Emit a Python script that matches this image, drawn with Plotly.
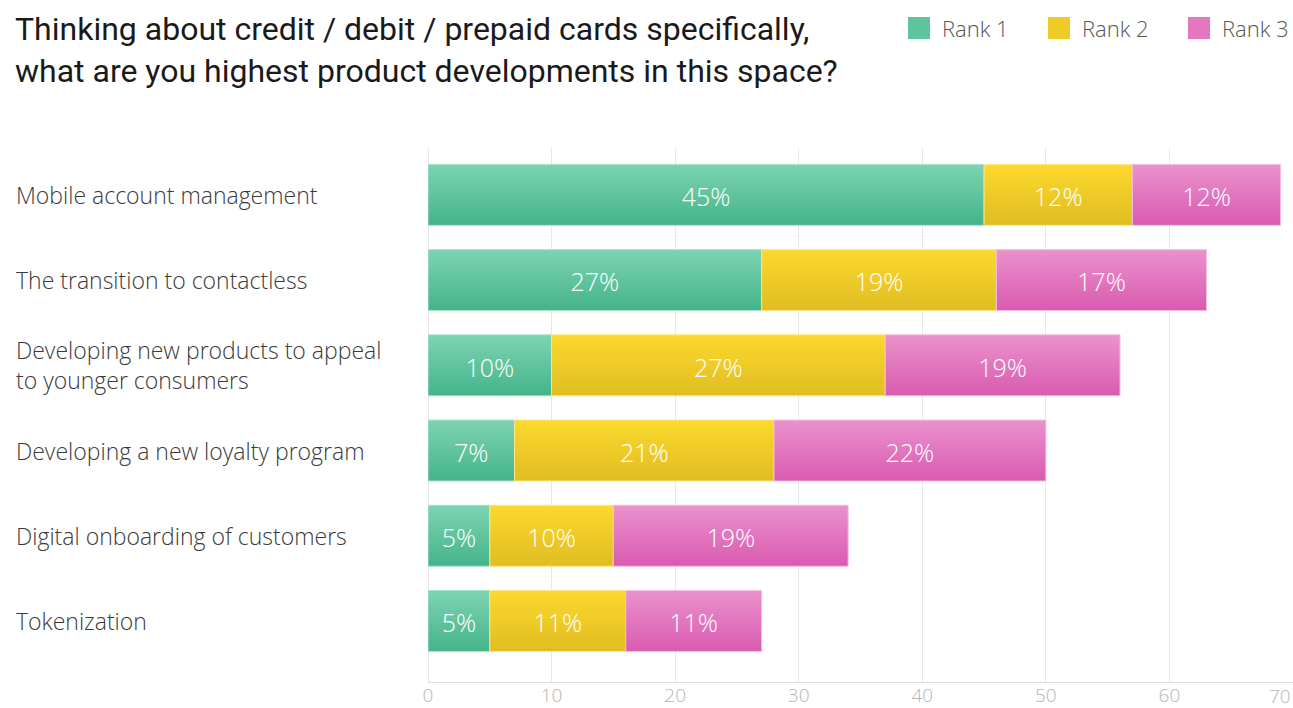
import plotly.graph_objects as go

# Survey data: share of respondents ranking each development 1st / 2nd / 3rd
categories = [
    "Mobile account management",
    "The transition to contactless",
    "Developing new products to appeal<br>to younger consumers",
    "Developing a new loyalty program",
    "Digital onboarding of customers",
    "Tokenization",
]
rank1 = [45, 27, 10, 7, 5, 5]
rank2 = [12, 19, 27, 21, 10, 11]
rank3 = [12, 17, 19, 22, 19, 11]
series_names = ["Rank 1", "Rank 2", "Rank 3"]
x_ticks = [0, 10, 20, 30, 40, 50, 60, 70]

# (top, bottom, mid) shades for each rank's vertical gradient
top_colors = ["#7dd4b2", "#fcd92c", "#eb92cd"]
bottom_colors = ["#44b48a", "#e0bd22", "#d95ab0"]
mid_colors = ["#5fc49e", "#eecb27", "#e276bf"]
edge_colors = ["#a6e3cc", "#fde78a", "#f3bde1"]

W, H = 1293, 708
M_T, M_B = 148, 26
PLOT_LEFT = 428
PLOT_H = H - M_T - M_B
BAR_W = 0.715        # bar thickness in category units
TEXT_NUDGE = 0.06    # optical centring of the value labels

label_font = "Open Sans"
series = [rank1, rank2, rank3]
ypos = list(range(len(categories)))

fig = go.Figure()

# stacked segments with a vertical gradient fill
bases = []
for s, vals in enumerate(series):
    base = [sum(series[k][i] for k in range(s)) for i in ypos]
    bases.append(base)
    for i in ypos:
        x0, x1 = base[i], base[i] + vals[i]
        y0, y1 = i - BAR_W / 2, i + BAR_W / 2
        fig.add_trace(go.Scatter(
            x=[x0, x1, x1, x0, x0],
            y=[y0, y0, y1, y1, y0],
            mode="lines",
            fill="toself",
            fillgradient=dict(
                type="vertical",
                start=y0, stop=y1,
                colorscale=[[0, top_colors[s]], [1, bottom_colors[s]]],
            ),
            line=dict(color=edge_colors[s], width=1),
            hoverinfo="skip",
            showlegend=False,
        ))

# value labels centred in each segment
for s, (name, vals) in enumerate(zip(series_names, series)):
    fig.add_trace(go.Scatter(
        name=name,
        x=[bases[s][i] + vals[i] / 2 for i in ypos],
        y=[i + TEXT_NUDGE for i in ypos],
        mode="text",
        text=[f"{v}%" for v in vals],
        textposition="middle center",
        textfont=dict(family=label_font, size=25, color="white", weight=300),
        showlegend=False,
        hovertemplate=name + ": %{text}<extra></extra>",
    ))


def px_x(px):
    return px / W


def px_y(py):
    return (H - M_B - py) / PLOT_H


annotations = []
# category labels, left aligned at the page edge
for i, cat in enumerate(categories):
    annotations.append(dict(
        x=px_x(14), xref="paper", y=i, yref="y",
        text=cat, showarrow=False, xanchor="left", yanchor="middle",
        align="left",
        font=dict(family=label_font, size=23, color="#3a3a3a", weight=300),
    ))

# title, two lines
title_lines = [
    "Thinking about credit / debit / prepaid cards specifically,",
    "what are you highest product developments in this space?",
]
for line, cy in zip(title_lines, [29, 71]):
    annotations.append(dict(
        x=px_x(13), xref="paper", y=px_y(cy), yref="paper",
        text=line, showarrow=False, xanchor="left", yanchor="middle",
        font=dict(family="Roboto", size=32, color="#1a1a1a"),
    ))

# last axis label kept inside the page edge
tick_font = dict(family=label_font, size=19, color="#b5b5b5", weight=300)
annotations.append(dict(
    x=1, xref="paper", y=px_y(696), yref="paper",
    text=str(x_ticks[-1]), showarrow=False, xanchor="right", yanchor="middle",
    font=tick_font,
))

# legend drawn as swatches + text
shapes = []
legend_x = [908, 1048, 1188]
for lx, name, col in zip(legend_x, series_names, mid_colors):
    shapes.append(dict(
        type="rect", xref="paper", yref="paper",
        x0=px_x(lx), x1=px_x(lx + 22), y0=px_y(39), y1=px_y(17),
        fillcolor=col, line=dict(width=0),
    ))
    annotations.append(dict(
        x=px_x(lx + 32), xref="paper", y=px_y(28), yref="paper",
        text=name, showarrow=False, xanchor="left", yanchor="middle",
        font=dict(family=label_font, size=22, color="#555555", weight=300),
    ))

fig.update_layout(
    width=W, height=H,
    margin=dict(l=0, r=0, t=M_T, b=M_B),
    paper_bgcolor="white",
    plot_bgcolor="white",
    xaxis=dict(
        domain=[PLOT_LEFT / W, 1],
        range=[0, 70],
        tickvals=x_ticks[:-1],
        ticktext=[str(t) for t in x_ticks[:-1]],
        showgrid=True, gridcolor="#e8e8e8", gridwidth=1,
        zeroline=True, zerolinecolor="#e8e8e8", zerolinewidth=1,
        showline=True, linecolor="#dddddd", linewidth=1,
        ticks="",
        ticklabelstandoff=-4,
        tickfont=tick_font,
        automargin=False,
        fixedrange=True,
    ),
    yaxis=dict(
        range=[5.716, -0.55],
        showticklabels=False,
        showgrid=False, zeroline=False, showline=False,
        automargin=False,
        fixedrange=True,
    ),
    annotations=annotations,
    shapes=shapes,
    showlegend=False,
)

fig.write_html("out.html")
